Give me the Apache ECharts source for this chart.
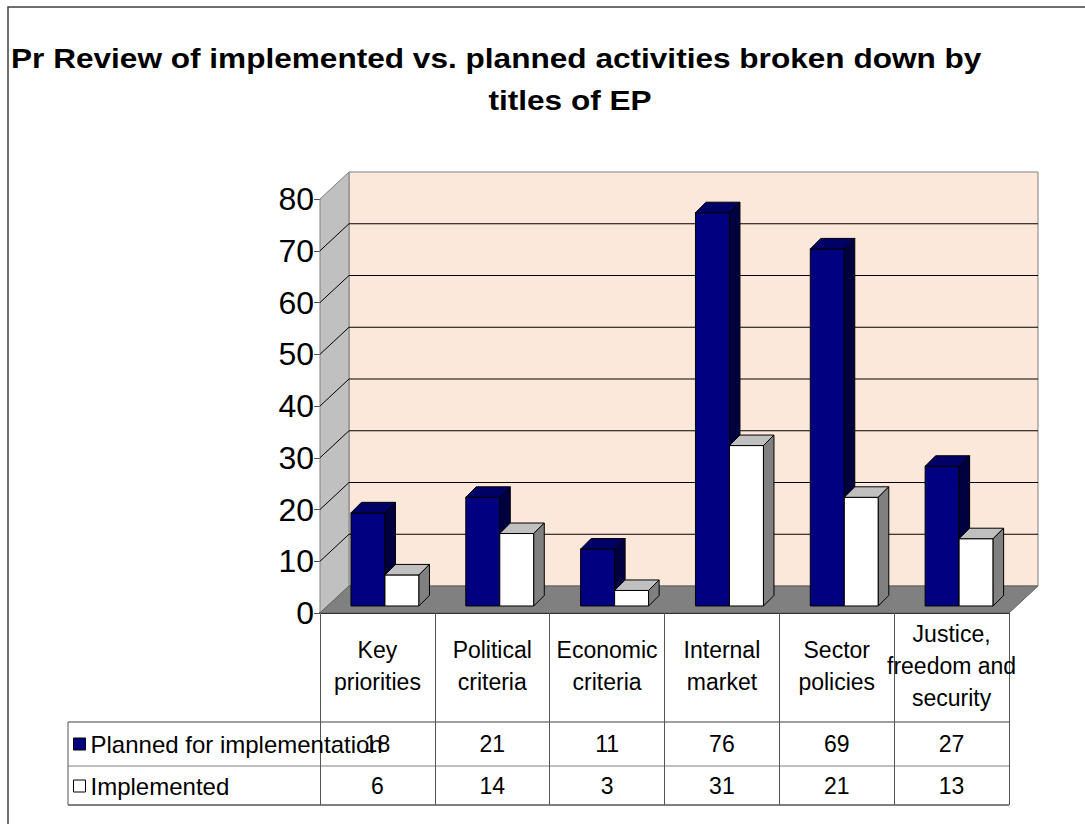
<!DOCTYPE html>
<html>
<head>
<meta charset="utf-8">
<script src="https://cdn.jsdelivr.net/npm/echarts@6/dist/echarts.min.js"></script>
<style>
  html, body { margin: 0; padding: 0; background: #fff; }
  #chart { width: 1085px; height: 824px; }
</style>
</head>
<body>
<div id="chart"></div>
<script>
'use strict';

// data
const categories = ['Key\npriorities', 'Political\ncriteria', 'Economic\ncriteria', 'Internal\nmarket', 'Sector\npolicies', 'Justice,\nfreedom and\nsecurity'];
const planned = [18, 21, 11, 76, 69, 27];
const implemented = [6, 14, 3, 31, 21, 13];
const seriesNames = ['Planned for implementation', 'Implemented'];
const yTicks = [0, 10, 20, 30, 40, 50, 60, 70, 80];

const FONT = '"Liberation Sans", Arial, sans-serif';
const DEPTH = [29, -27];    // front plane -> back wall
const BAR_SHIFT = 0.26;     // bars start a bit behind the front plane
const BAR_DEPTH = 10.5;
const BAR_W = 34;

const barColors = [
    { front: '#000080', top: '#000066', side: '#000040' },
    { front: '#ffffff', top: '#c0c0c0', side: '#808080' }
];

window.addEventListener('load', () => {
    const chart = echarts.init(document.getElementById('chart'), null, { renderer: 'svg' });

    // walls + floor
    function renderWalls(params, api) {
        const bw = api.size([1, 0])[0];
        const p0 = api.coord([0, yTicks[0]]);
        const p1 = api.coord([categories.length - 1, yTicks[yTicks.length - 1]]);
        const x0 = p0[0] - bw / 2, x1 = p1[0] + bw / 2;
        const yb = p0[1], yt = p1[1];
        const dx = DEPTH[0], dy = DEPTH[1];
        return {
            type: 'group',
            children: [
                { type: 'polygon', shape: { points: [[x0 + dx, yt + dy], [x1 + dx, yt + dy], [x1 + dx, yb + dy], [x0 + dx, yb + dy]] },
                  style: { fill: '#fce8da', stroke: '#808080', lineWidth: 1 } },
                { type: 'polygon', shape: { points: [[x0, yt], [x0 + dx, yt + dy], [x0 + dx, yb + dy], [x0, yb]] },
                  style: { fill: '#c0c0c0', stroke: '#808080', lineWidth: 1 } },
                { type: 'polygon', shape: { points: [[x0, yb], [x0 + dx, yb + dy], [x1 + dx, yb + dy], [x1, yb]] },
                  style: { fill: '#808080', stroke: '#606060', lineWidth: 1 } }
            ]
        };
    }

    // gridlines on back wall and left wall
    function renderGridLine(params, api) {
        const bw = api.size([1, 0])[0];
        const a = api.coord([0, api.value(1)]);
        const b = api.coord([categories.length - 1, api.value(1)]);
        const x0 = a[0] - bw / 2, x1 = b[0] + bw / 2, y = a[1];
        const dx = DEPTH[0], dy = DEPTH[1];
        return {
            type: 'group',
            children: [
                { type: 'line', shape: { x1: x0, y1: y, x2: x0 + dx, y2: y + dy }, style: { stroke: '#000', lineWidth: 1 } },
                { type: 'line', shape: { x1: x0 + dx, y1: y + dy, x2: x1 + dx, y2: y + dy }, style: { stroke: '#000', lineWidth: 1 } }
            ]
        };
    }

    function barRenderer(idx) {
        const c = barColors[idx];
        return function (params, api) {
            const cat = api.value(0);
            const base = api.coord([cat, 0]);
            const top = api.coord([cat, api.value(1)]);
            const sx = DEPTH[0] * BAR_SHIFT, sy = DEPTH[1] * BAR_SHIFT;
            const l = base[0] - BAR_W + idx * BAR_W + sx;
            const r = l + BAR_W;
            const yb = base[1] + sy, yt = top[1] + sy;
            const d = BAR_DEPTH;
            const stroke = { stroke: '#000', lineWidth: 1, lineJoin: 'round' };
            return {
                type: 'group',
                children: [
                    { type: 'polygon', shape: { points: [[l, yt], [r, yt], [r, yb], [l, yb]] },
                      style: Object.assign({ fill: c.front }, stroke) },
                    { type: 'polygon', shape: { points: [[l, yt], [l + d, yt - d], [r + d, yt - d], [r, yt]] },
                      style: Object.assign({ fill: c.top }, stroke) },
                    { type: 'polygon', shape: { points: [[r, yt], [r + d, yt - d], [r + d, yb - d], [r, yb]] },
                      style: Object.assign({ fill: c.side }, stroke) }
                ]
            };
        };
    }

    // values in the data table
    const rowY = [744, 786];
    function renderTable(params, api) {
        const x = api.coord([api.value(0), 0])[0];
        return {
            type: 'group',
            children: [api.value(1), api.value(2)].map((v, k) => ({
                type: 'text', x: x, y: rowY[k],
                style: { text: String(v), fontSize: 23, fontFamily: FONT, fill: '#000', align: 'center', verticalAlign: 'middle' }
            }))
        };
    }

    const option = {
        animation: false,
        backgroundColor: '#fff',
        grid: { left: 320, top: 199, width: 689, height: 414 },
        xAxis: {
            type: 'category',
            data: categories,
            axisLine: { lineStyle: { color: '#000', width: 2 } },
            axisTick: { show: true, length: 192, lineStyle: { color: '#555', width: 1 } },
            axisLabel: { interval: 0, margin: 53, verticalAlign: 'middle', fontSize: 23, lineHeight: 32, color: '#000', fontFamily: FONT },
            splitLine: { show: false }
        },
        yAxis: {
            type: 'value', min: 0, max: 80, interval: 10,
            axisLine: { show: true, lineStyle: { color: '#555' } },
            axisTick: { show: true, length: 6, lineStyle: { color: '#555' } },
            axisLabel: { fontSize: 32, color: '#000', margin: 6, fontFamily: FONT },
            splitLine: { show: false }
        },
        legend: {
            orient: 'vertical', left: 68, top: 727, itemWidth: 12, itemHeight: 12, itemGap: 18,
            icon: 'rect',
            textStyle: { fontSize: 24, lineHeight: 24, color: '#000', fontFamily: FONT },
            data: [
                { name: seriesNames[0], itemStyle: { color: '#000080', borderColor: '#000', borderWidth: 1 } },
                { name: seriesNames[1], itemStyle: { color: '#fff', borderColor: '#000', borderWidth: 1 } }
            ]
        },
        graphic: [
            { type: 'rect', shape: { x: 8, y: 7, width: 1100, height: 840 }, style: { fill: 'none', stroke: '#404040', lineWidth: 1.5 }, z: 10 },
            { type: 'text', x: 11, y: 58, scaleX: 1.17,
              style: { text: 'Pr Review of implemented vs. planned activities broken down by', fontSize: 27, fontWeight: 'bold', fontFamily: FONT, fill: '#000', align: 'left', verticalAlign: 'middle' } },
            { type: 'text', x: 570, y: 100, scaleX: 1.17,
              style: { text: 'titles of EP', fontSize: 27, fontWeight: 'bold', fontFamily: FONT, fill: '#000', align: 'center', verticalAlign: 'middle' } },
            // table frame
            { type: 'line', shape: { x1: 68, y1: 722, x2: 1009, y2: 722 }, style: { stroke: '#404040', lineWidth: 1 } },
            { type: 'line', shape: { x1: 68, y1: 766, x2: 1009, y2: 766 }, style: { stroke: '#808080', lineWidth: 1 } },
            { type: 'line', shape: { x1: 68, y1: 805, x2: 1009, y2: 805 }, style: { stroke: '#000', lineWidth: 1 } },
            { type: 'line', shape: { x1: 68, y1: 722, x2: 68, y2: 805 }, style: { stroke: '#555', lineWidth: 1 } }
        ],
        series: [
            { type: 'custom', name: 'walls', silent: true, z: 1, renderItem: renderWalls, data: [[0, 0]] },
            { type: 'custom', name: 'grid', silent: true, z: 2, renderItem: renderGridLine,
              data: yTicks.slice(1, -1).map(v => [0, v]) },
            { type: 'custom', name: seriesNames[0], z: 3, renderItem: barRenderer(0),
              itemStyle: { color: '#000080', borderColor: '#000' },
              data: planned.map((v, i) => [i, v]) },
            { type: 'custom', name: seriesNames[1], z: 4, renderItem: barRenderer(1),
              itemStyle: { color: '#fff', borderColor: '#000' },
              data: implemented.map((v, i) => [i, v]) },
            { type: 'custom', name: 'table', silent: true, z: 5, renderItem: renderTable,
              data: planned.map((v, i) => [i, v, implemented[i]]) }
        ]
    };

    chart.setOption(option);
});
</script>
</body>
</html>
